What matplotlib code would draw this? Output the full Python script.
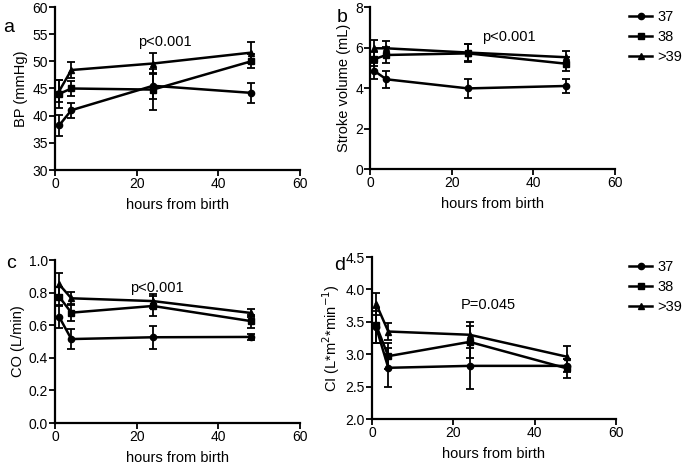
import numpy as np
import matplotlib
matplotlib.use("Agg")
import matplotlib.pyplot as plt
from matplotlib.lines import Line2D

plt.rcParams['font.family'] = ['Liberation Sans', 'DejaVu Sans']

hours = [1, 4, 24, 48]
groups = ["37", "38", ">39"]
markers = ["o", "s", "^"]

# BP (mmHg)
bp_mean = {"37": [38.2, 41.0, 45.5, 44.2], "38": [44.0, 45.0, 44.8, 50.0], ">39": [44.5, 48.4, 49.6, 51.6]}
bp_err = {"37": [1.9, 1.4, 2.4, 1.8], "38": [2.5, 1.3, 3.7, 1.3], ">39": [2.0, 1.5, 1.9, 1.9]}

# Stroke volume (mL)
sv_mean = {"37": [4.85, 4.43, 3.98, 4.1], "38": [5.42, 5.63, 5.71, 5.2], ">39": [5.96, 5.96, 5.75, 5.52]}
sv_err = {"37": [0.4, 0.43, 0.45, 0.33], "38": [0.35, 0.4, 0.45, 0.35], ">39": [0.42, 0.37, 0.4, 0.3]}

# CO (L/min)
co_mean = {"37": [0.652, 0.515, 0.526, 0.528], "38": [0.775, 0.677, 0.718, 0.625], ">39": [0.851, 0.765, 0.748, 0.675]}
co_err = {"37": [0.07, 0.06, 0.07, 0.02], "38": [0.06, 0.05, 0.06, 0.04], ">39": [0.067, 0.04, 0.045, 0.025]}

# CI (L*m2*min-1)
ci_mean = {"37": [3.42, 2.79, 2.82, 2.82], "38": [3.45, 2.97, 3.19, 2.78], ">39": [3.78, 3.35, 3.30, 2.96]}
ci_err = {"37": [0.25, 0.3, 0.36, 0.1], "38": [0.27, 0.2, 0.25, 0.15], ">39": [0.17, 0.13, 0.2, 0.16]}

W, H = 685, 465
fig = plt.figure(figsize=(W / 100, H / 100), dpi=100)


def px_axes(left, top, right, bottom):
    return fig.add_axes([left / W, 1 - bottom / H, (right - left) / W, (bottom - top) / H])


def panel(ax, mean, err, ylim, yticks, ylabel, ptext, ppos, fmt):
    for g, m in zip(groups, markers):
        ax.errorbar(hours, mean[g], yerr=err[g], color="black", marker=m, markersize=4.5,
                    linewidth=1.8, elinewidth=1.3, capsize=3, capthick=1.3, clip_on=False)
    ax.set_xlim(0, 60)
    ax.set_ylim(*ylim)
    ax.set_xticks([0, 20, 40, 60])
    ax.set_yticks(yticks)
    ax.set_yticklabels([fmt.format(t) for t in yticks])
    for s in ["top", "right"]:
        ax.spines[s].set_visible(False)
    for s in ["left", "bottom"]:
        ax.spines[s].set_linewidth(1.6)
    ax.tick_params(direction="out", length=4, width=1.3, labelsize=10, pad=1)
    ax.set_xlabel("hours from birth", fontsize=10.5, labelpad=5)
    ax.set_ylabel(ylabel, fontsize=10.5, labelpad=3)
    ax.text(ppos[0], ppos[1], ptext, fontsize=10.5, ha="center", va="center")


ax_a = px_axes(55, 7, 300, 170)
panel(ax_a, bp_mean, bp_err, (30, 60), [30, 35, 40, 45, 50, 55, 60], "BP (mmHg)",
      "p<0.001", (27, 53.6), "{:.0f}")

ax_b = px_axes(370, 7, 615, 169)
panel(ax_b, sv_mean, sv_err, (0, 8), [0, 2, 4, 6, 8], "Stroke volume (mL)",
      "p<0.001", (34, 6.5), "{:.0f}")

ax_c = px_axes(55, 260, 300, 423)
panel(ax_c, co_mean, co_err, (0, 1.0), [0.0, 0.2, 0.4, 0.6, 0.8, 1.0], "CO (L/min)",
      "p<0.001", (25, 0.83), "{:.1f}")

ax_d = px_axes(372, 257, 616, 419)
panel(ax_d, ci_mean, ci_err, (2.0, 4.5), [2.0, 2.5, 3.0, 3.5, 4.0, 4.5],
      r"CI (L*m$^{2}$*min$^{-1}$)", "P=0.045", (28.7, 3.76), "{:.1f}")

handles = [Line2D([], [], color="black", marker=m, markersize=4.5, linewidth=1.8) for m in markers]
for pos in [(629 / W, 1 - 10 / H), (629 / W, 1 - 260 / H)]:
    fig.legend(handles, groups, loc="upper left", bbox_to_anchor=pos,
               frameon=False, fontsize=10.5, handlelength=1.6, handletextpad=0.35,
               labelspacing=0.42, borderaxespad=0, borderpad=0)

for letter, x, y in [("a", 9, 28), ("b", 342, 17), ("c", 11, 263), ("d", 340, 266)]:
    fig.text(x / W, 1 - y / H, letter, fontsize=14, ha="center", va="center")

fig.savefig("out.png", dpi=100)
